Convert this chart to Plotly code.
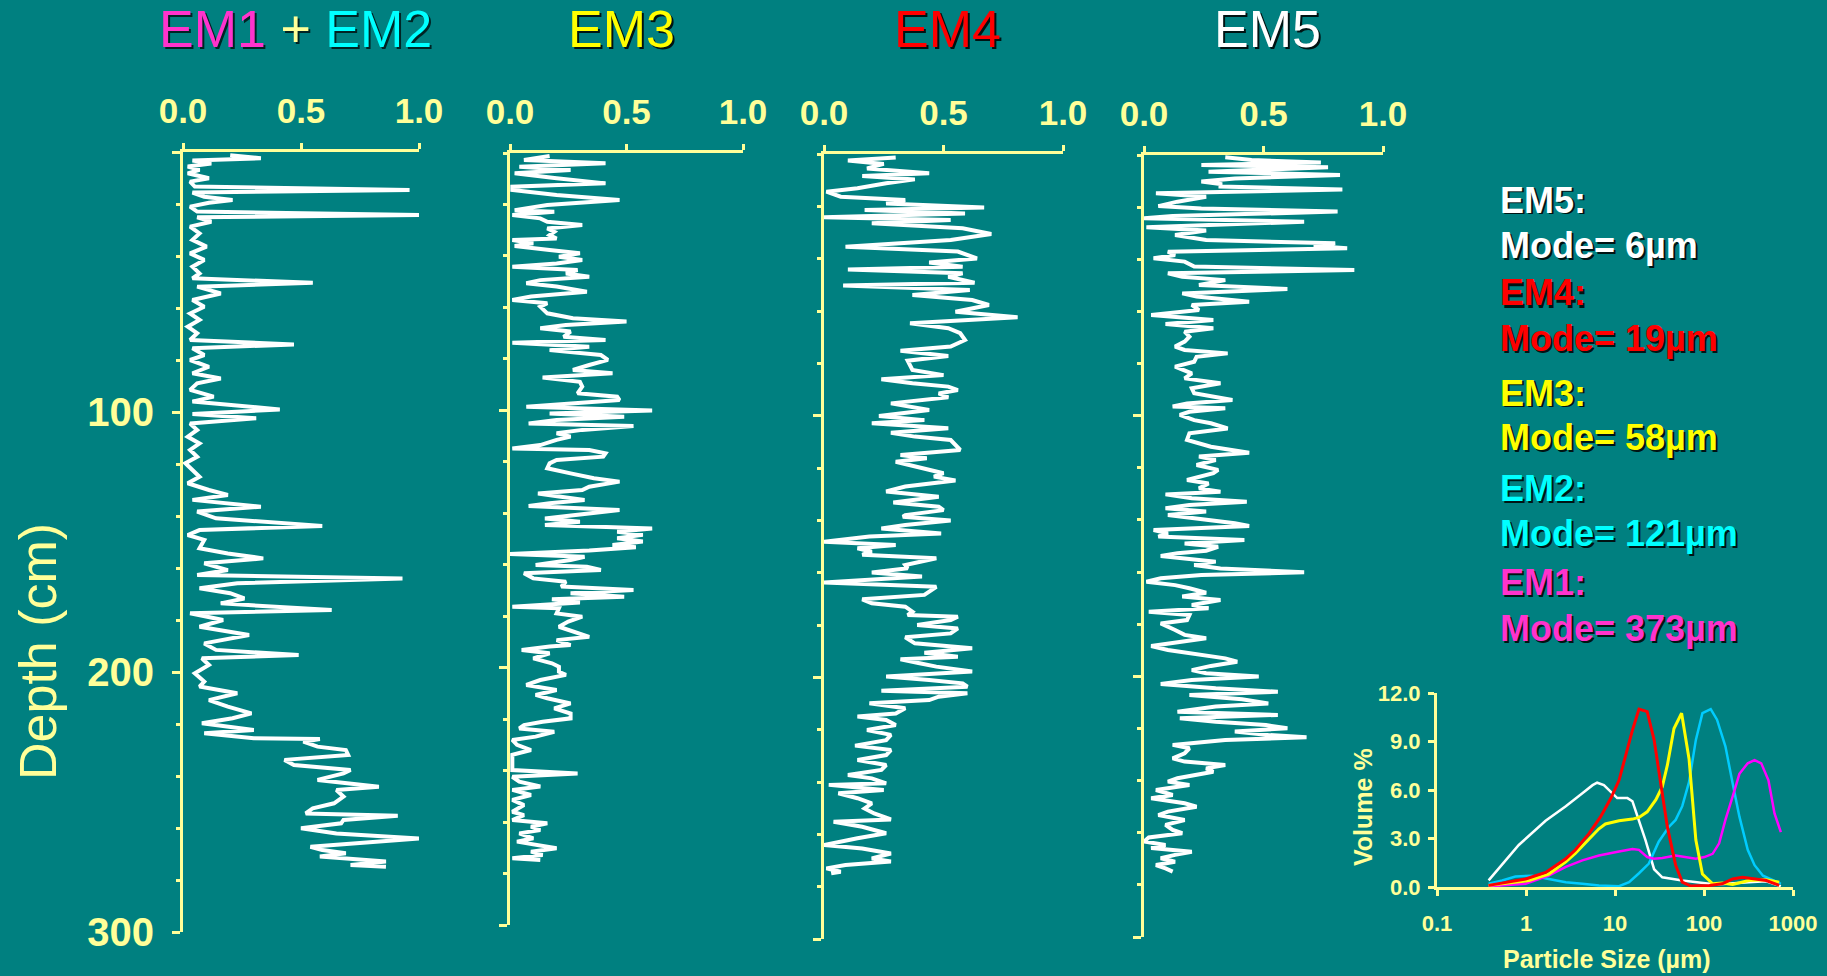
import plotly.graph_objects as go

W, H = 1827, 976
BG = '#008080'
AX = '#FFFF99'
FONT = 'Liberation Sans, Arial, sans-serif'

# ---------------- depth profiles (depth in cm, loading 0-1) ----------------
em12_depth_top = [1.2, 2.4, 3.3, 4.4, 5.6, 6.9, 8.2, 10.1, 11.4, 13.3, 14.6, 15.6, 17.2, 18.5, 19.5, 21.0, 22.9, 24.2, 25.1, 26.8,
                  28.7, 31.3, 33.8, 36.4, 39.0, 41.5, 44.1, 46.7, 48.6, 50.3, 51.8, 54.4, 56.9, 59.5, 62.1, 64.6, 67.2, 69.7, 72.3, 74.0,
                  75.5, 78.1, 80.0, 82.6, 85.1, 87.1, 89.0, 91.5, 94.1, 96.0, 99.0, 100.8, 102.4, 104.4, 106.9, 109.5, 112.1, 114.6, 117.2, 119.7,
                  122.3, 124.9, 127.4, 130.0, 131.9, 133.8, 136.4, 138.3, 140.9, 143.8, 145.4, 147.3, 149.2, 152.4, 154.4, 156.3, 158.2, 160.8, 162.7, 164.0]
em12_value_top = [0.20, 0.33, 0.04, 0.12, 0.02, 0.07, 0.02, 0.11, 0.03, 0.05, 0.96, 0.04, 0.09, 0.21, 0.11, 0.03, 0.06, 1.00, 0.06, 0.12,
                  0.03, 0.07, 0.04, 0.10, 0.03, 0.09, 0.04, 0.07, 0.04, 0.55, 0.06, 0.16, 0.04, 0.09, 0.03, 0.07, 0.02, 0.06, 0.03, 0.47,
                  0.04, 0.09, 0.03, 0.11, 0.04, 0.16, 0.06, 0.03, 0.13, 0.04, 0.41, 0.04, 0.31, 0.03, 0.06, 0.02, 0.07, 0.03, 0.06, 0.01,
                  0.04, 0.07, 0.02, 0.11, 0.19, 0.04, 0.33, 0.06, 0.14, 0.59, 0.07, 0.02, 0.09, 0.07, 0.19, 0.34, 0.09, 0.19, 0.06, 0.93]
em12_depth_bot = [165.9, 167.8, 169.7, 171.7, 173.6, 176.2, 177.4, 180.0, 182.6, 185.8, 189.0, 191.5, 193.5, 194.7, 197.3, 200.5, 203.7, 205.6, 208.2, 210.8,
                  213.3, 215.9, 217.8, 219.7, 222.3, 223.6, 225.5, 225.8, 226.8, 228.7, 230.0, 231.9, 233.8, 235.8, 237.7, 239.0, 241.5, 244.1, 245.4, 247.9,
                  250.5, 252.4, 254.4, 255.3, 256.9, 258.2, 260.1, 262.1, 264.0, 265.9, 267.2, 268.5, 269.7, 271.0, 272.9, 274.2, 274.9]
em12_value_bot = [0.23, 0.07, 0.20, 0.26, 0.16, 0.63, 0.03, 0.17, 0.07, 0.28, 0.09, 0.14, 0.49, 0.08, 0.11, 0.05, 0.09, 0.07, 0.23, 0.11,
                  0.19, 0.29, 0.21, 0.08, 0.30, 0.09, 0.30, 0.58, 0.51, 0.57, 0.69, 0.70, 0.43, 0.47, 0.71, 0.68, 0.57, 0.83, 0.65, 0.68,
                  0.64, 0.55, 0.52, 0.91, 0.68, 0.67, 0.50, 0.65, 1.00, 0.71, 0.54, 0.59, 0.69, 0.58, 0.86, 0.71, 0.86]

em3_depth_top = [1.2, 2.7, 4.0, 5.3, 6.6, 7.9, 9.8, 11.8, 13.1, 14.4, 16.3, 18.3, 20.2, 22.2, 22.8, 24.1, 25.4, 26.7, 28.0, 29.3,
                 30.6, 31.9, 33.2, 33.8, 35.1, 36.1, 37.7, 39.0, 40.3, 41.6, 42.9, 44.2, 45.5, 46.8, 48.1, 49.4, 50.6, 51.9, 53.9, 55.8,
                 57.1, 58.4, 59.7, 62.3, 64.2, 65.5, 66.8, 68.1, 69.4, 71.4, 72.7, 73.7, 75.3, 76.6, 78.5, 80.4, 82.4, 84.3, 85.6, 87.2,
                 88.9, 90.8, 93.4, 94.7, 96.0, 97.3, 98.6, 100.1, 101.2, 102.5, 103.8, 105.1, 106.1, 107.6, 108.9, 110.2, 111.5, 113.5, 114.8, 115.4,
                 116.7, 118.0, 119.3, 120.6, 122.5, 124.5, 126.4, 127.7, 129.7, 131.0, 132.3, 133.5, 134.8, 136.1, 137.2, 138.7, 140.7, 142.0, 143.3, 144.6,
                 145.9, 147.2, 148.4, 149.7, 151.0, 152.3, 153.2, 154.5, 155.8, 156.9]
em3_value_top = [0.17, 0.06, 0.41, 0.04, 0.26, 0.02, 0.20, 0.41, 0.01, 0.01, 0.20, 0.47, 0.16, 0.02, 0.19, 0.01, 0.13, 0.16, 0.31, 0.16,
                 0.19, 0.17, 0.20, 0.01, 0.10, 0.02, 0.17, 0.30, 0.21, 0.31, 0.20, 0.01, 0.29, 0.24, 0.34, 0.13, 0.07, 0.20, 0.33, 0.09,
                 0.01, 0.16, 0.13, 0.16, 0.27, 0.50, 0.24, 0.13, 0.26, 0.23, 0.41, 0.01, 0.34, 0.17, 0.39, 0.42, 0.34, 0.27, 0.44, 0.14,
                 0.30, 0.31, 0.29, 0.46, 0.47, 0.24, 0.07, 0.61, 0.17, 0.49, 0.20, 0.08, 0.53, 0.31, 0.20, 0.26, 0.20, 0.13, 0.01, 0.34,
                 0.41, 0.40, 0.20, 0.17, 0.16, 0.26, 0.36, 0.47, 0.34, 0.31, 0.12, 0.21, 0.32, 0.17, 0.08, 0.47, 0.27, 0.15, 0.30, 0.15,
                 0.61, 0.46, 0.57, 0.46, 0.57, 0.44, 0.54, 0.34, 0.00, 0.32]
em3_depth_bot = [158.2, 160.1, 160.8, 162.0, 163.3, 165.3, 166.6, 168.5, 169.8, 171.1, 172.4, 173.4, 174.7, 176.3, 176.9, 178.9, 180.2, 182.1, 184.1, 186.0,
                 188.0, 189.3, 191.2, 191.8, 193.1, 194.4, 196.4, 198.3, 199.6, 201.6, 202.8, 204.8, 206.7, 208.7, 210.6, 211.9, 213.9, 215.8, 217.8, 219.7,
                 221.0, 222.3, 223.6, 224.9, 226.8, 228.1, 230.0, 232.0, 233.9, 235.9, 239.8, 241.1, 242.4, 244.3, 246.2, 247.5, 249.5, 251.4, 253.4, 256.0,
                 257.3, 259.2, 260.5, 261.8, 263.1, 264.4, 266.3, 267.6, 268.9, 270.2, 271.5, 272.8, 274.1, 274.7]
em3_value_bot = [0.26, 0.11, 0.33, 0.39, 0.06, 0.10, 0.24, 0.22, 0.53, 0.26, 0.49, 0.18, 0.30, 0.01, 0.21, 0.20, 0.31, 0.25, 0.21, 0.27,
                 0.34, 0.20, 0.26, 0.17, 0.05, 0.17, 0.10, 0.18, 0.21, 0.21, 0.24, 0.13, 0.07, 0.20, 0.11, 0.16, 0.26, 0.19, 0.26, 0.26,
                 0.14, 0.06, 0.04, 0.19, 0.11, 0.01, 0.03, 0.09, 0.01, 0.01, 0.01, 0.29, 0.01, 0.04, 0.13, 0.01, 0.09, 0.01, 0.06, 0.01,
                 0.06, 0.01, 0.16, 0.09, 0.13, 0.04, 0.10, 0.03, 0.13, 0.20, 0.09, 0.14, 0.01, 0.13]

em4_depth_top = [1.3, 2.5, 3.8, 5.5, 7.4, 8.4, 9.7, 11.2, 13.1, 14.4, 16.3, 17.6, 18.9, 20.4, 21.4, 22.7, 24.2, 25.2, 26.5, 28.4,
                 30.6, 32.9, 35.4, 37.3, 39.9, 41.5, 43.1, 44.1, 45.6, 46.9, 49.2, 50.3, 52.0, 53.9, 55.8, 57.7, 60.3, 62.4, 64.7, 66.6,
                 68.5, 71.1, 73.6, 75.2, 77.2, 79.0, 82.5, 84.5, 86.1, 87.6, 88.9, 90.2, 91.5, 93.0, 95.3, 97.8, 100.1, 101.7, 102.9, 104.8,
                 106.5, 108.0, 109.3, 113.1, 115.0, 116.3, 117.6, 119.5, 122.0, 123.3, 124.8, 127.1, 129.0, 131.0, 132.2, 133.2, 134.8, 136.1, 138.0, 138.6,
                 140.1, 141.8, 143.1, 145.0, 146.2, 148.2, 149.4, 150.7, 152.0, 153.2, 154.5]
em4_value_top = [0.30, 0.10, 0.25, 0.18, 0.44, 0.16, 0.38, 0.26, 0.14, 0.01, 0.07, 0.34, 0.26, 0.67, 0.17, 0.59, 0.00, 0.53, 0.20, 0.58,
                 0.70, 0.53, 0.09, 0.56, 0.64, 0.44, 0.58, 0.10, 0.58, 0.52, 0.63, 0.08, 0.61, 0.37, 0.62, 0.69, 0.55, 0.81, 0.36, 0.52,
                 0.57, 0.59, 0.53, 0.32, 0.52, 0.35, 0.37, 0.50, 0.24, 0.37, 0.52, 0.56, 0.48, 0.52, 0.28, 0.44, 0.23, 0.42, 0.20, 0.52,
                 0.28, 0.38, 0.53, 0.57, 0.32, 0.43, 0.30, 0.39, 0.50, 0.46, 0.55, 0.34, 0.26, 0.48, 0.37, 0.29, 0.48, 0.50, 0.34, 0.33,
                 0.53, 0.34, 0.24, 0.49, 0.19, 0.00, 0.30, 0.14, 0.20, 0.16, 0.47]
em4_depth_bot = [157.1, 158.3, 159.9, 161.5, 162.5, 163.8, 165.4, 166.6, 168.5, 170.2, 171.7, 173.0, 174.9, 176.2, 176.8, 178.1, 180.0, 181.3, 183.2, 184.7,
                 187.0, 188.9, 190.6, 192.1, 193.1, 194.6, 195.9, 197.8, 199.7, 201.0, 202.3, 203.6, 205.1, 206.1, 207.4, 208.7, 209.9, 211.8, 213.8, 215.0,
                 216.3, 218.2, 220.1, 222.0, 224.0, 226.1, 227.8, 229.7, 231.6, 233.5, 235.4, 237.3, 238.6, 240.5, 241.1, 243.1, 244.3, 246.2, 248.2, 250.1,
                 252.0, 254.3, 255.2, 257.1, 259.6, 261.5, 264.1, 265.4, 267.3, 269.2, 270.4, 271.7, 273.0, 274.3, 274.9]
em4_value_bot = [0.34, 0.35, 0.20, 0.41, 0.20, 0.00, 0.47, 0.45, 0.42, 0.16, 0.20, 0.34, 0.37, 0.35, 0.56, 0.53, 0.39, 0.56, 0.53, 0.34,
                 0.38, 0.62, 0.42, 0.56, 0.32, 0.40, 0.47, 0.62, 0.26, 0.44, 0.58, 0.60, 0.24, 0.60, 0.48, 0.44, 0.19, 0.34, 0.30, 0.14,
                 0.26, 0.30, 0.18, 0.28, 0.26, 0.13, 0.28, 0.26, 0.14, 0.26, 0.24, 0.10, 0.20, 0.26, 0.02, 0.25, 0.06, 0.14, 0.20, 0.17,
                 0.21, 0.28, 0.04, 0.16, 0.26, 0.14, 0.00, 0.16, 0.28, 0.20, 0.28, 0.09, 0.01, 0.07, 0.03]

em5_depth_top = [0.9, 1.9, 2.9, 3.8, 4.7, 6.4, 7.7, 9.0, 10.2, 11.1, 12.1, 13.2, 14.7, 16.0, 17.9, 19.6, 20.5, 21.7, 23.4, 24.3,
                 25.6, 26.9, 27.7, 29.0, 30.7, 32.6, 33.9, 34.9, 35.8, 37.1, 38.4, 39.6, 40.9, 42.8, 44.1, 45.4, 46.7, 48.0, 49.9, 51.4,
                 53.1, 54.3, 56.3, 57.5, 59.5, 61.4, 63.3, 64.8, 66.5, 67.8, 69.7, 71.6, 73.5, 74.8, 76.1, 77.4, 79.3, 81.2, 83.8, 85.7,
                 87.6, 89.5, 91.4, 94.0, 95.3, 96.5, 97.2, 98.5, 99.7, 101.7, 102.9, 104.9, 106.8, 109.3, 111.9, 114.2, 115.7, 117.0, 118.9, 120.8,
                 122.1, 124.7, 126.0, 127.9, 129.2, 130.2, 131.7, 133.0, 134.3, 135.5, 136.8, 138.1, 139.4, 141.3, 142.3, 143.9, 145.1, 146.4, 147.7, 149.0,
                 150.3, 151.8, 152.8, 153.8]
em5_value_top = [0.34, 0.45, 0.74, 0.24, 0.77, 0.27, 0.82, 0.38, 0.24, 0.32, 0.32, 0.83, 0.05, 0.26, 0.14, 0.06, 0.24, 0.81, 0.12, 0.00,
                 0.67, 0.20, 0.01, 0.26, 0.13, 0.26, 0.80, 0.71, 0.85, 0.10, 0.13, 0.04, 0.17, 0.21, 0.88, 0.10, 0.16, 0.34, 0.23, 0.60,
                 0.16, 0.22, 0.44, 0.20, 0.23, 0.03, 0.29, 0.09, 0.29, 0.17, 0.19, 0.17, 0.13, 0.17, 0.35, 0.22, 0.21, 0.13, 0.20, 0.17,
                 0.32, 0.20, 0.21, 0.37, 0.18, 0.12, 0.34, 0.19, 0.15, 0.21, 0.28, 0.35, 0.19, 0.18, 0.28, 0.44, 0.23, 0.30, 0.22, 0.31,
                 0.29, 0.18, 0.27, 0.23, 0.32, 0.09, 0.20, 0.43, 0.19, 0.09, 0.26, 0.10, 0.22, 0.38, 0.44, 0.04, 0.10, 0.06, 0.42, 0.17,
                 0.31, 0.26, 0.14, 0.07]
em5_depth_bot = [156.0, 157.3, 158.6, 160.1, 161.1, 162.4, 163.7, 165.0, 166.2, 167.9, 169.4, 170.7, 172.6, 173.9, 175.2, 176.5, 178.4, 179.7, 182.2, 184.1,
                 185.4, 186.7, 188.4, 189.9, 191.8, 193.1, 194.4, 196.0, 197.6, 198.8, 200.1, 201.4, 202.9, 204.6, 205.9, 207.2, 208.8, 210.4, 211.6, 213.6,
                 214.8, 216.1, 217.4, 218.7, 219.9, 221.2, 222.5, 223.4, 224.4, 226.3, 227.6, 229.5, 231.5, 232.7, 234.0, 235.3, 236.6, 237.9, 239.1, 240.4,
                 241.7, 243.6, 245.5, 246.8, 248.7, 250.0, 251.9, 253.2, 255.1, 257.0, 258.9, 260.2, 261.8, 263.4, 264.7, 265.9, 267.3, 268.5, 269.8, 271.1,
                 272.4, 273.7, 274.9]
em5_value_bot = [0.30, 0.21, 0.32, 0.67, 0.24, 0.07, 0.01, 0.13, 0.19, 0.26, 0.16, 0.32, 0.20, 0.27, 0.02, 0.19, 0.18, 0.07, 0.13, 0.17,
                 0.26, 0.17, 0.03, 0.10, 0.24, 0.34, 0.39, 0.28, 0.20, 0.26, 0.48, 0.20, 0.07, 0.30, 0.56, 0.19, 0.41, 0.52, 0.30, 0.14,
                 0.56, 0.15, 0.30, 0.51, 0.60, 0.38, 0.52, 0.68, 0.34, 0.12, 0.19, 0.17, 0.12, 0.17, 0.34, 0.26, 0.29, 0.20, 0.14, 0.10,
                 0.19, 0.05, 0.12, 0.03, 0.17, 0.22, 0.10, 0.06, 0.17, 0.09, 0.12, 0.16, 0.02, 0.00, 0.09, 0.03, 0.20, 0.13, 0.07, 0.13,
                 0.05, 0.09, 0.12]

# ---------------- end-member grain-size distributions ----------------
em5_size = [0.38, 0.83, 1.66, 2.8, 4.3, 5.6, 6.3, 7.5, 10.6, 13.8, 15.7, 22, 27.5, 34, 57, 136, 318, 500, 730]
em5_vol = [0.41, 2.6, 4.1, 5.0, 5.8, 6.3, 6.45, 6.3, 5.5, 5.5, 5.3, 2.9, 1.1, 0.6, 0.4, 0.15, 0.3, 0.35, 0.05]
em4_size = [0.38, 0.99, 1.66, 2.8, 3.6, 5.1, 6.9, 9.0, 11.1, 13.8, 15.7, 18.6, 23, 27.5, 32.7, 38.8, 48, 57, 71, 115, 160, 210, 270, 350, 500, 700]
em4_vol = [0.1, 0.5, 0.9, 1.75, 2.3, 3.3, 4.35, 5.5, 6.6, 8.5, 9.7, 11.0, 10.85, 9.1, 6.4, 3.7, 1.35, 0.3, 0.06, 0.1, 0.2, 0.5, 0.6, 0.5, 0.4, 0.1]
em3_size = [0.38, 1.08, 1.8, 2.8, 3.6, 5.1, 6.6, 7.8, 11.1, 15.7, 18.6, 23, 28.8, 34, 38.8, 46, 56, 68, 81, 96, 125, 160, 210, 318, 500, 700]
em3_vol = [0.1, 0.4, 0.8, 1.55, 2.1, 3.0, 3.6, 3.9, 4.1, 4.2, 4.3, 4.65, 5.4, 6.2, 7.55, 9.8, 10.75, 7.9, 2.9, 0.8, 0.2, 0.25, 0.15, 0.4, 0.45, 0.3]
em2_size = [0.38, 0.54, 0.76, 1.17, 1.8, 2.8, 4.3, 6.6, 11.1, 14.4, 18.6, 24, 31, 40, 48, 57, 68, 81, 96, 119, 140, 174, 210, 250, 310, 370, 460, 600, 730]
em2_vol = [0.2, 0.4, 0.65, 0.7, 0.5, 0.3, 0.2, 0.1, 0.05, 0.3, 0.85, 1.45, 2.8, 3.7, 4.15, 5.0, 6.5, 9.1, 10.75, 11.0, 10.35, 8.7, 6.4, 4.35, 2.3, 1.35, 0.7, 0.4, 0.2]
em1_size = [0.38, 0.99, 1.8, 2.8, 4.3, 6.6, 11.1, 15.7, 18.6, 23, 27.5, 34, 48, 62, 81, 101, 125, 148, 174, 210, 250, 310, 370, 440, 530, 620, 730]
em1_vol = [0.04, 0.2, 0.7, 1.25, 1.65, 1.95, 2.2, 2.35, 2.3, 1.85, 1.75, 1.8, 1.95, 1.85, 1.75, 1.85, 2.05, 2.7, 4.15, 5.6, 7.0, 7.65, 7.85, 7.65, 6.6, 4.55, 3.4]

x_ticks = [0.0, 0.5, 1.0]
depth_ticks = [0, 100, 200, 300]
depth_labels = ['', '100', '200', '300']
size_ticks = [0.1, 1, 10, 100, 1000]
size_labels = ['0.1', '1', '10', '100', '1000']
vol_ticks = [0, 3, 6, 9, 12]

mode_lines = [('EM5:', '#FFFFFF'), ('Mode= 6µm', '#FFFFFF'),
              ('EM4:', '#FF0000'), ('Mode= 19µm', '#FF0000'),
              ('EM3:', '#FFFF00'), ('Mode= 58µm', '#FFFF00'),
              ('EM2:', '#00FFFF'), ('Mode= 121µm', '#00FFFF'),
              ('EM1:', '#FF33CC'), ('Mode= 373µm', '#FF33CC')]

# ---------------- layout geometry (pixels) ----------------
panels = [
    dict(x0=183, x1=419, top=152, bot=932, d=em12_depth_top + em12_depth_bot, v=em12_value_top + em12_value_bot),
    dict(x0=510, x1=743, top=153, bot=925, d=em3_depth_top + em3_depth_bot, v=em3_value_top + em3_value_bot),
    dict(x0=824, x1=1063, top=154, bot=939, d=em4_depth_top + em4_depth_bot, v=em4_value_top + em4_value_bot),
    dict(x0=1144, x1=1383, top=155, bot=937, d=em5_depth_top + em5_depth_bot, v=em5_value_top + em5_value_bot),
]


def fx(p):
    return p / W


def fy(p):
    return 1 - p / H


fig = go.Figure()
layout = dict(width=W, height=H, margin=dict(l=0, r=0, t=0, b=0, pad=0, autoexpand=False),
              paper_bgcolor=BG, plot_bgcolor=BG, showlegend=False,
              font=dict(family=FONT, color=AX))

for i, p in enumerate(panels):
    n = i + 1
    sx = '' if n == 1 else str(n)
    m = min(len(p['d']), len(p['v']))
    fig.add_trace(go.Scatter(x=p['v'][:m], y=p['d'][:m], mode='lines',
                             line=dict(color='white', width=4),
                             xaxis='x' + sx, yaxis='y' + sx, hoverinfo='skip'))
    layout['xaxis' + sx] = dict(domain=[fx(p['x0']), fx(p['x1'])], range=[0, 1], anchor='y' + sx,
                                side='top', showgrid=False, zeroline=False, showline=True, automargin=False,
                                linecolor=AX, linewidth=3, ticks='outside', ticklen=6, tickwidth=3,
                                tickcolor=AX, tickvals=x_ticks, tickformat='.1f',
                                ticklabelstandoff=6,
                                tickfont=dict(size=35, color=AX, family=FONT, weight='bold'))
    layout['yaxis' + sx] = dict(domain=[fy(p['bot']), fy(p['top'])], range=[300, 0], anchor='x' + sx,
                                showgrid=False, zeroline=False, showline=True, automargin=False,
                                linecolor=AX, linewidth=3, ticks='outside', ticklen=8, tickwidth=3,
                                tickcolor=AX, tickvals=depth_ticks, ticktext=depth_labels,
                                showticklabels=(n == 1), ticklabelstandoff=10,
                                tickfont=dict(size=40, color=AX, family=FONT, weight='bold'),
                                minor=dict(dtick=20, tick0=0, ticks='outside', ticklen=4,
                                           tickwidth=3, tickcolor=AX))

# inset grain-size distributions
for sz, vol, col, wdt in [(em5_size, em5_vol, '#FFFFFF', 2.5), (em2_size, em2_vol, '#00CCFF', 2.5),
                          (em1_size, em1_vol, '#FF00FF', 2.5), (em3_size, em3_vol, '#FFFF00', 3),
                          (em4_size, em4_vol, '#FF0000', 3)]:
    fig.add_trace(go.Scatter(x=sz, y=vol, mode='lines', line=dict(color=col, width=wdt),
                             xaxis='x5', yaxis='y5', hoverinfo='skip'))

layout['xaxis5'] = dict(domain=[fx(1437), fx(1793)], type='log', range=[-1, 3], anchor='y5',
                        showgrid=False, zeroline=False, showline=True, linecolor=AX, linewidth=3, automargin=False,
                        ticks='outside', ticklen=6, tickwidth=3, tickcolor=AX,
                        tickvals=size_ticks, ticktext=size_labels, ticklabelstandoff=9,
                        tickfont=dict(size=22, color=AX, family=FONT, weight='bold'))
layout['yaxis5'] = dict(domain=[fy(887), fy(693)], range=[0, 12], anchor='x5',
                        showgrid=False, zeroline=False, showline=True, linecolor=AX, linewidth=3, automargin=False,
                        ticks='outside', ticklen=6, tickwidth=3, tickcolor=AX,
                        tickvals=vol_ticks, tickformat='.1f', ticklabelstandoff=3,
                        tickfont=dict(size=22, color=AX, family=FONT, weight='bold'))

ann = []
SHADOW = 'rgba(0,0,0,0.85)'


def add_text(x, y, text, size, color, bold=False, shadow=True, angle=0, xanchor='center', off=2.5,
             shadow_text=None):
    weight = 'bold' if bold else 'normal'
    if shadow:
        ann.append(dict(x=fx(x + off), y=fy(y + off), xref='paper', yref='paper',
                        text=shadow_text if shadow_text is not None else text, showarrow=False,
                        xanchor=xanchor, yanchor='middle', textangle=angle,
                        font=dict(size=size, color=SHADOW, family=FONT, weight=weight)))
    ann.append(dict(x=fx(x), y=fy(y), xref='paper', yref='paper', text=text, showarrow=False,
                    xanchor=xanchor, yanchor='middle', textangle=angle,
                    font=dict(size=size, color=color, family=FONT, weight=weight)))


def title_html(c1, c2, c3):
    return ('<span style="color:%s">EM1</span> <span style="color:%s">+</span> '
            '<span style="color:%s">EM2</span>' % (c1, c2, c3))


# panel titles
add_text(295, 29, title_html('#FF33CC', '#FFFF99', '#00FFFF'), 52, '#FFFFFF',
         shadow_text=title_html(SHADOW, SHADOW, SHADOW))
add_text(621, 29, 'EM3', 52, '#FFFF00')
add_text(947, 29, 'EM4', 52, '#FF0000')
add_text(1267, 29, 'EM5', 52, '#FFFFFF')

# depth axis title
add_text(38, 652, 'Depth (cm)', 52, AX, shadow=False, angle=-90)

# mode legend
ys = [200, 245, 293, 338, 393, 437, 488, 533, 582, 628]
for (t, c), yy in zip(mode_lines, ys):
    add_text(1498, yy, t, 36, c, bold=True, xanchor='left', off=2)

# inset axis titles
add_text(1363, 807, 'Volume %', 25, AX, bold=True, shadow=False, angle=-90)
add_text(1607, 959, 'Particle Size (µm)', 25, AX, bold=True, shadow=False)

layout['annotations'] = ann
fig.update_layout(**layout)
fig.write_html('out.html')
